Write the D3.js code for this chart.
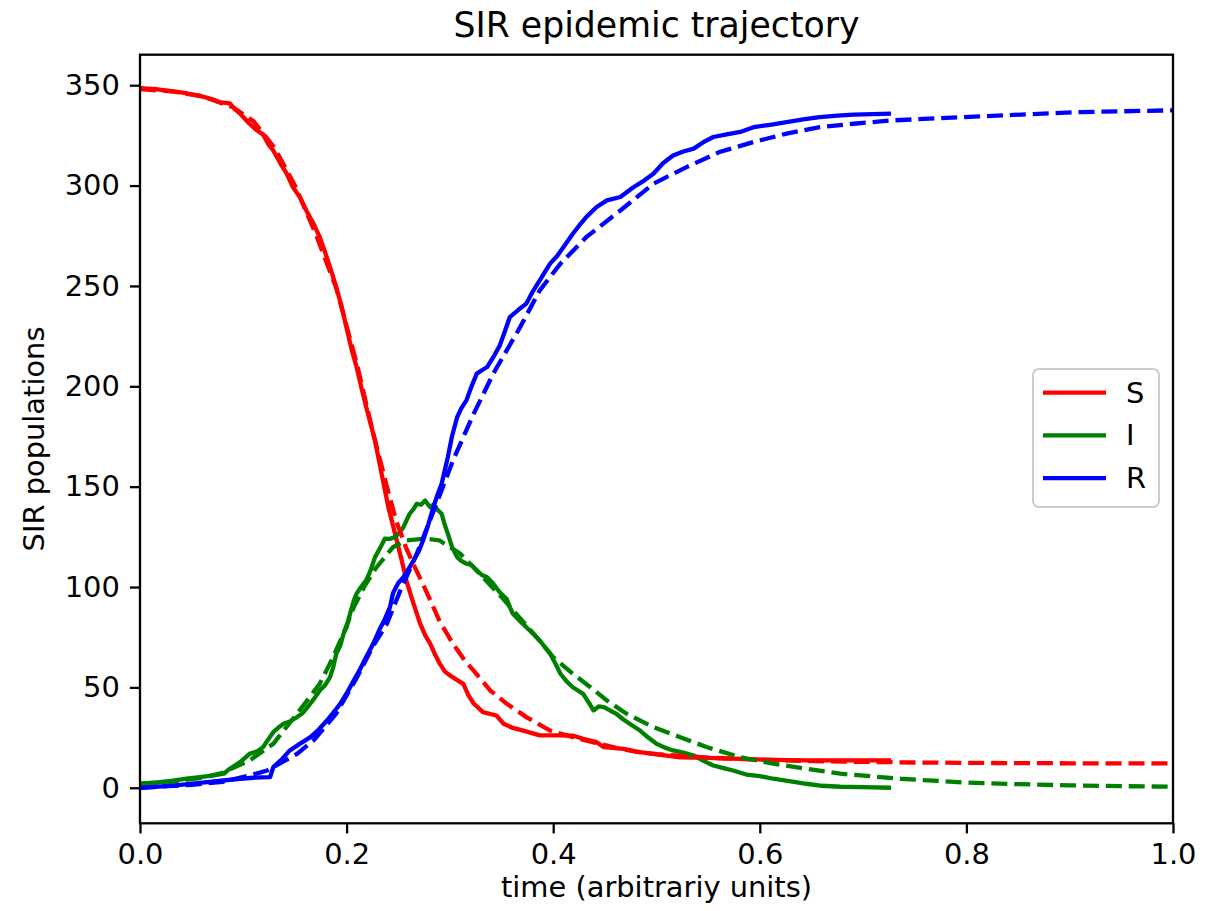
<html>

<head>
    <title>SIR epidemic trajectory</title>
    <script src='https://d3js.org/d3.v7.min.js'></script>
    <style>
        body { margin: 0; background: white; }
        text { font-family: 'DejaVu Sans', sans-serif; fill: black; }
        .tick line { stroke: black; stroke-width: 2.3; }
        .tick text { font-size: 28.9px; }
    </style>
</head>

<body>
    <svg id="sir"></svg>
    <script>
        // stochastic run (solid lines): [time, population]
        var sSim = [[0, 348.5], [0.015, 348], [0.03, 347], [0.045, 346], [0.058, 344.7], [0.07, 343], [0.077, 341.6], [0.087, 341], [0.092, 338],
            [0.097, 335.8], [0.106, 330.8], [0.112, 328], [0.119, 325.5], [0.125, 320], [0.129, 317.5], [0.136, 311], [0.142, 306], [0.148, 299.3],
            [0.155, 294], [0.161, 287.6], [0.168, 281], [0.174, 274.3], [0.179, 267], [0.184, 259.4], [0.19, 249.4], [0.195, 240], [0.2, 229],
            [0.205, 218], [0.2097, 209.6], [0.214, 200], [0.219, 189.6], [0.2275, 173], [0.2339, 156.4], [0.2404, 139.8], [0.2469, 126.6],
            [0.2533, 113.3], [0.258, 103], [0.264, 93], [0.271, 82], [0.276, 76], [0.281, 71.7], [0.286, 66], [0.29, 62], [0.295, 58], [0.3, 56],
            [0.306, 54], [0.313, 51.8], [0.318, 46], [0.323, 42], [0.332, 37.7], [0.345, 36], [0.352, 31.9], [0.36, 30], [0.371, 28.5], [0.387, 26.1],
            [0.403, 26.1], [0.419, 26], [0.429, 24.4], [0.442, 22.7], [0.449, 20.2], [0.468, 19.4], [0.484, 17.7], [0.5, 16.6], [0.523, 15.2],
            [0.549, 14.9], [0.581, 14.4], [0.613, 13.9], [0.645, 13.6], [0.678, 13.6], [0.727, 13.6]];
        var iSim = [[0, 2], [0.015, 2.5], [0.032, 3.6], [0.045, 4.5], [0.058, 5.3], [0.07, 6], [0.081, 7], [0.087, 9.5], [0.097, 12.8], [0.106, 16.9],
            [0.113, 18], [0.119, 20.2], [0.124, 24], [0.129, 27.7], [0.134, 30], [0.139, 31.9], [0.145, 33], [0.152, 35.2], [0.157, 37], [0.161, 39.4],
            [0.168, 44], [0.174, 48.5], [0.179, 51], [0.184, 55.1], [0.187, 60], [0.19, 66.8], [0.194, 71], [0.197, 76.7], [0.2, 80], [0.204, 88],
            [0.207, 93.3], [0.2097, 96.7], [0.214, 100], [0.219, 103.3], [0.223, 108], [0.2275, 114.9], [0.232, 119], [0.237, 124.1], [0.242, 124],
            [0.247, 124.9], [0.251, 127], [0.255, 129.8], [0.261, 136.5], [0.265, 139], [0.268, 141.5], [0.272, 141], [0.276, 143.1], [0.279, 141],
            [0.281, 139.8], [0.284, 141], [0.287, 139], [0.292, 136.5], [0.295, 131], [0.298, 126.6], [0.302, 120], [0.307, 114.9], [0.311, 113],
            [0.316, 111.6], [0.321, 111], [0.326, 108.3], [0.331, 106], [0.336, 104.9], [0.342, 101.6], [0.348, 97.5], [0.355, 94], [0.358, 90],
            [0.361, 86.7], [0.368, 83], [0.374, 80], [0.38, 77], [0.387, 73.4], [0.392, 70], [0.397, 66.8], [0.402, 62], [0.407, 56.8], [0.413, 53],
            [0.419, 50.1], [0.429, 46.8], [0.435, 42], [0.439, 38.5], [0.444, 40.5], [0.449, 40.2], [0.455, 38.5], [0.461, 36.9], [0.468, 34],
            [0.474, 31.9], [0.484, 28.5], [0.492, 25], [0.5, 21.9], [0.508, 20], [0.516, 18.6], [0.526, 17.5], [0.536, 16.1], [0.545, 13.5],
            [0.555, 11.1], [0.565, 9.8], [0.574, 8.6], [0.587, 6.6], [0.6, 5.8], [0.613, 4.5], [0.63, 3.2], [0.645, 2], [0.66, 1], [0.678, 0.5],
            [0.7, 0.3], [0.727, 0]];
        var rSim = [[0, 0], [0.032, 1.1], [0.065, 2.8], [0.097, 4.5], [0.11, 5], [0.126, 5.3], [0.129, 10.3], [0.137, 14], [0.145, 18.6], [0.155, 22],
            [0.165, 25.2], [0.173, 29], [0.181, 33.5], [0.188, 38], [0.194, 41.9], [0.2, 47], [0.207, 53.5], [0.213, 59], [0.219, 65.1], [0.226, 72],
            [0.232, 79], [0.237, 84], [0.242, 90], [0.245, 97], [0.25, 102], [0.255, 104.9], [0.26, 109], [0.265, 113.3], [0.27, 118], [0.274, 123.2],
            [0.279, 131], [0.284, 139.8], [0.288, 146], [0.292, 151.5], [0.295, 158], [0.298, 164.7], [0.302, 175], [0.307, 184.6], [0.311, 189],
            [0.316, 193], [0.321, 200], [0.326, 206.3], [0.331, 208], [0.336, 209.6], [0.342, 214.5], [0.348, 220], [0.353, 227], [0.358, 234.5],
            [0.366, 238], [0.374, 241.2], [0.38, 247], [0.387, 252.8], [0.392, 257], [0.397, 261.1], [0.404, 265], [0.41, 269.4], [0.419, 276],
            [0.425, 280], [0.432, 284.3], [0.442, 289.3], [0.452, 292.6], [0.465, 294.3], [0.478, 299.3], [0.488, 302.5], [0.497, 305.9],
            [0.506, 311], [0.516, 315], [0.526, 317], [0.536, 318.4], [0.545, 321.5], [0.555, 324.2], [0.568, 325.5], [0.581, 326.7], [0.594, 329.1],
            [0.61, 330.3], [0.626, 331.6], [0.642, 333], [0.658, 334.1], [0.675, 334.8], [0.691, 335.3], [0.71, 335.6], [0.727, 335.8]];

        // deterministic solution (dashed lines)
        var sOde = [[0, 348], [0.03, 347], [0.06, 344.5], [0.09, 339], [0.11, 332], [0.13, 319], [0.15, 300], [0.17, 276], [0.19, 249], [0.21, 211],
            [0.226, 176], [0.239, 150], [0.248, 133], [0.258, 119], [0.265, 111], [0.277, 98], [0.29, 83], [0.303, 71.7], [0.315, 63], [0.323, 58.4],
            [0.339, 48.5], [0.355, 41.9], [0.374, 35.2], [0.397, 28.5], [0.419, 25.2], [0.44, 22.5], [0.46, 20], [0.48, 18], [0.5, 16.8], [0.55, 15],
            [0.6, 14], [0.65, 13.3], [0.7, 12.9], [0.75, 12.6], [0.8, 12.4], [0.9, 12.2], [1, 12.1]];
        var iOde = [[0, 2], [0.03, 3], [0.06, 5], [0.08, 7.5], [0.106, 13.6], [0.129, 21.9], [0.152, 36.9], [0.174, 51.8], [0.187, 65.1], [0.197, 77],
            [0.207, 90], [0.218, 101], [0.229, 109.9], [0.245, 119.9], [0.258, 123.2], [0.277, 124.1], [0.29, 123.2], [0.31, 116.6], [0.33, 106],
            [0.35, 95], [0.367, 85], [0.384, 75], [0.4, 65.1], [0.419, 56.8], [0.436, 50.1], [0.452, 43.5], [0.471, 36.9], [0.497, 30.2], [0.523, 25.2],
            [0.549, 20.2], [0.581, 15.2], [0.613, 12], [0.645, 9.5], [0.678, 7], [0.736, 4.5], [0.8, 2.6], [0.85, 1.8], [0.9, 1.2], [0.95, 0.8], [1, 0.5]];
        var rOde = [[0, 0], [0.05, 1.5], [0.08, 3], [0.106, 6.1], [0.123, 8.6], [0.152, 16.9], [0.168, 23.6], [0.19, 37], [0.21, 55], [0.225, 70],
            [0.239, 81.7], [0.252, 98.3], [0.268, 116.6], [0.287, 141.5], [0.303, 163.1], [0.323, 186.3], [0.342, 206.3], [0.368, 229.5],
            [0.387, 247.8], [0.407, 261.1], [0.432, 274.3], [0.465, 287.6], [0.497, 300.9], [0.529, 309.2], [0.561, 316.7], [0.594, 321.7],
            [0.626, 325.9], [0.658, 329.1], [0.691, 330.8], [0.729, 332.5], [0.813, 334.5], [0.91, 336.6], [1, 337.5]];

        var xTicks = [0, 0.2, 0.4, 0.6, 0.8, 1.0];
        var yTicks = [0, 50, 100, 150, 200, 250, 300, 350];
        var labels = ["S", "I", "R"];
        var colors = ["#ff0000", "#008000", "#0000ff"];

        var W = 1218, H = 911;
        // axes box in page pixels
        var axL = 140, axR = 1173, axT = 54.7, axB = 823.3;
        var x = d3.scaleLinear().domain([0, 1]).range([axL, axR]);
        var y = d3.scaleLinear().domain([-17.7, 365.2]).range([axB, axT]);

        var svg = d3.select("#sir").attr("width", W).attr("height", H);

        var line = d3.line()
            .x(function (d) { return x(d[0]); })
            .y(function (d) { return y(d[1]); });

        var sims = [sSim, iSim, rSim], odes = [sOde, iOde, rOde];
        sims.forEach(function (s, i) {
            svg.append("path").attr("d", line(s))
                .attr("fill", "none").attr("stroke", colors[i])
                .attr("stroke-width", 4.3).attr("stroke-linejoin", "round");
        });
        odes.forEach(function (s, i) {
            svg.append("path").attr("d", line(s))
                .attr("fill", "none").attr("stroke", colors[i])
                .attr("stroke-width", 4.3).attr("stroke-dasharray", "16,6.9");
        });

        // frame
        svg.append("rect")
            .attr("x", axL).attr("y", axT)
            .attr("width", axR - axL).attr("height", axB - axT)
            .attr("fill", "none").attr("stroke", "black").attr("stroke-width", 2.3);

        svg.append("g")
            .attr("transform", "translate(0," + axB + ")")
            .call(d3.axisBottom(x).tickValues(xTicks).tickFormat(d3.format(".1f")).tickSize(10.1).tickPadding(10.1));
        svg.append("g")
            .attr("transform", "translate(" + axL + ",0)")
            .call(d3.axisLeft(y).tickValues(yTicks).tickSize(10.1).tickPadding(10.1));
        svg.selectAll(".domain").remove();
        svg.selectAll(".tick text").attr("font-family", null).attr("font-size", null).attr("fill", null);
        svg.selectAll(".tick line").attr("stroke", null);
        svg.selectAll("g").attr("font-family", null).attr("font-size", null);

        svg.append("text")
            .attr("x", (axL + axR) / 2).attr("y", 37.4)
            .attr("text-anchor", "middle").style("font-size", "34.7px")
            .text("SIR epidemic trajectory");
        svg.append("text")
            .attr("x", (axL + axR) / 2).attr("y", 897)
            .attr("text-anchor", "middle").style("font-size", "28.9px")
            .text("time (arbitrariy units)");
        svg.append("text")
            .attr("transform", "translate(44," + (axT + axB) / 2 + ") rotate(-90)")
            .attr("text-anchor", "middle").style("font-size", "28.9px")
            .text("SIR populations");

        // legend
        var lg = svg.append("g");
        lg.append("rect")
            .attr("x", 1033).attr("y", 369).attr("width", 126).attr("height", 138)
            .attr("rx", 6).attr("fill", "white").attr("fill-opacity", 0.8)
            .attr("stroke", "#cccccc").attr("stroke-width", 2);
        labels.forEach(function (lab, i) {
            var ly = 392.7 + i * 42.7;
            lg.append("line")
                .attr("x1", 1043).attr("x2", 1106).attr("y1", ly).attr("y2", ly)
                .attr("stroke", colors[i]).attr("stroke-width", 4.3);
            lg.append("text")
                .attr("x", 1126).attr("y", ly + 10)
                .style("font-size", "28.9px")
                .text(lab);
        });
    </script>
</body>

</html>
